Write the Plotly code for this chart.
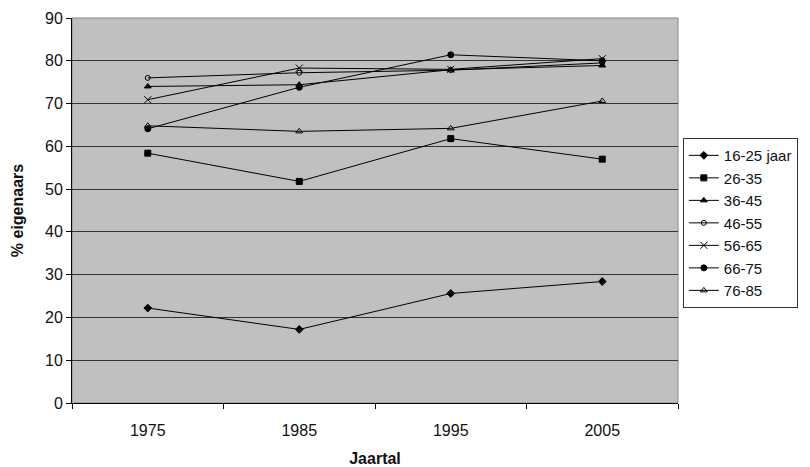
import plotly.graph_objects as go

years = ["1975", "1985", "1995", "2005"]
series_names = ["16-25 jaar", "26-35", "36-45", "46-55", "56-65", "66-75", "76-85"]
v_16_25 = [22.2, 17.2, 25.6, 28.4]
v_26_35 = [58.4, 51.8, 61.8, 57.0]
v_36_45 = [74.0, 74.4, 77.9, 78.9]
v_46_55 = [76.0, 77.2, 77.8, 79.5]
v_56_65 = [70.9, 78.3, 78.0, 80.5]
v_66_75 = [64.1, 73.8, 81.4, 80.0]
v_76_85 = [64.8, 63.5, 64.2, 70.6]
values = [v_16_25, v_26_35, v_36_45, v_46_55, v_56_65, v_66_75, v_76_85]

symbols = ["diamond", "square", "triangle-up", "circle-open", "x-thin-open", "circle", "triangle-up-open"]
sizes = [6, 6, 6, 5, 7, 6, 6]

fig = go.Figure()
for name, vals, sym, sz in zip(series_names, values, symbols, sizes):
    fig.add_trace(go.Scatter(
        x=years, y=vals, name=name, mode="lines+markers",
        line=dict(color="black", width=1),
        marker=dict(symbol=sym, size=sz, color="black",
                    line=dict(color="black", width=1)),
    ))

# page body has an 8px margin; the figure is wider than the window so the
# legend's right side is clipped like in the reference
fig.update_layout(
    width=838, height=459,
    margin=dict(l=64, r=168, t=10, b=64),
    paper_bgcolor="white", plot_bgcolor="#c0c0c0",
    font=dict(family="Arial, Liberation Sans", size=16, color="#111"),
    showlegend=True,
    legend=dict(x=1.008, y=0.688, xanchor="left", yanchor="top",
                bgcolor="white", bordercolor="#333", borderwidth=1,
                font=dict(size=15), tracegroupgap=0, itemwidth=30),
    shapes=[dict(type="rect", xref="paper", yref="paper", x0=0, x1=1, y0=0, y1=1,
                 line=dict(color="#888", width=1), layer="below")],
)
fig.update_xaxes(type="category", range=[-0.5, 3.5], tickson="boundaries",
                 ticks="outside", ticklen=5, tickcolor="black", automargin=False,
                 tickfont=dict(size=16), ticklabelstandoff=13,
                 showline=True, linecolor="black", linewidth=1, showgrid=False,
                 title=dict(text="<b>Jaartal</b>", standoff=16, font=dict(size=16)))
fig.update_yaxes(range=[0, 90], dtick=10, ticks="outside", ticklen=5, tickcolor="black",
                 automargin=False, tickfont=dict(size=16),
                 showline=True, linecolor="black", linewidth=1,
                 gridcolor="#333", gridwidth=1, zeroline=False,
                 title=dict(text="<b>% eigenaars</b>", standoff=17, font=dict(size=16)))

fig.write_html("out.html")
